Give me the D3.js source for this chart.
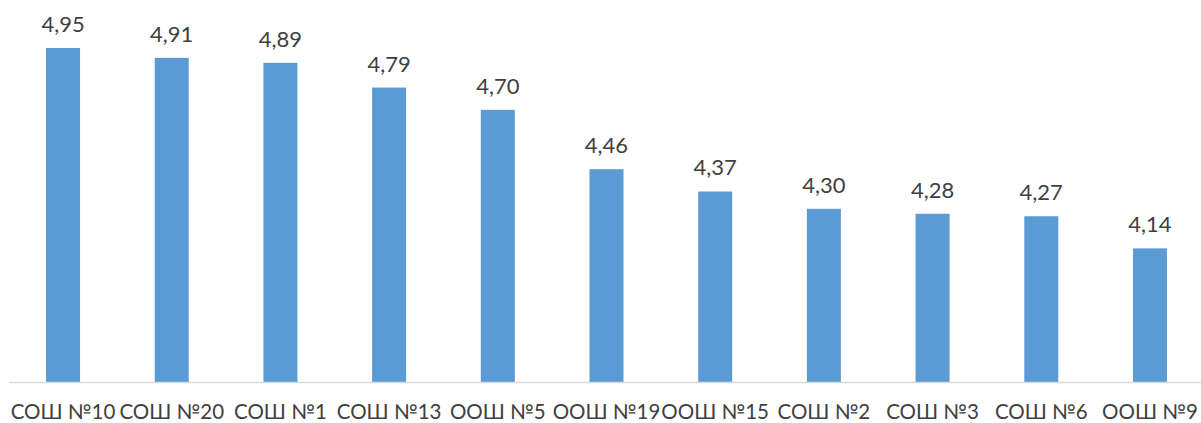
<!DOCTYPE html>
<html>
<head>
<meta charset="utf-8">
<script src="https://cdn.jsdelivr.net/npm/d3@7"></script>
<style>
  body { margin: 0; background: #fff; }
  svg text { font-family: Lato, "Open Sans", sans-serif; fill: #404040; }
</style>
</head>
<body>
<div class="chart-area"></div>
<script>
const width = 1201
const height = 423

const categories = ['СОШ №10', 'СОШ №20', 'СОШ №1', 'СОШ №13', 'ООШ №5', 'ООШ №19', 'ООШ №15', 'СОШ №2', 'СОШ №3', 'СОШ №6', 'ООШ №9']
const values = [4.95, 4.91, 4.89, 4.79, 4.70, 4.46, 4.37, 4.30, 4.28, 4.27, 4.14]

const data = categories.map((name, i) => ({ name, value: values[i] }))

const svg = d3.select('div.chart-area')
  .append('svg')
  .attr('width', width)
  .attr('height', height)

const x = d3.scaleBand()
  .domain(categories)
  .range([8.7, 1204.3])
  .padding(0)

const y = d3.scaleLinear()
  .domain([3.6, 5.0])
  .range([382, 35.6])

const barWidth = 34

// bars
svg.append('g')
  .selectAll('rect')
  .data(data)
  .join('rect')
  .attr('x', d => x(d.name) + x.bandwidth() / 2 - barWidth / 2)
  .attr('y', d => y(d.value))
  .attr('width', barWidth)
  .attr('height', d => y(3.6) - y(d.value))
  .attr('fill', '#5b9bd5')

// value labels
svg.append('g')
  .selectAll('text')
  .data(data)
  .join('text')
  .attr('x', d => x(d.name) + x.bandwidth() / 2)
  .attr('y', d => y(d.value) - 16)
  .attr('text-anchor', 'middle')
  .style('font-size', '22px')
  .text(d => d3.format('.2f')(d.value).replace('.', ','))

// category axis
const xAxis = svg.append('g')
  .attr('transform', `translate(0, ${y(3.6)})`)
  .call(d3.axisBottom(x).tickSize(0).tickPadding(0))

xAxis.select('.domain')
  .attr('stroke', '#d9d9d9')
  .attr('stroke-width', 1.5)

xAxis.selectAll('text')
  .attr('dy', null)
  .attr('y', 37)
  .style('font-size', '20.5px')
  .style('fill', '#404040')
</script>
</body>
</html>
